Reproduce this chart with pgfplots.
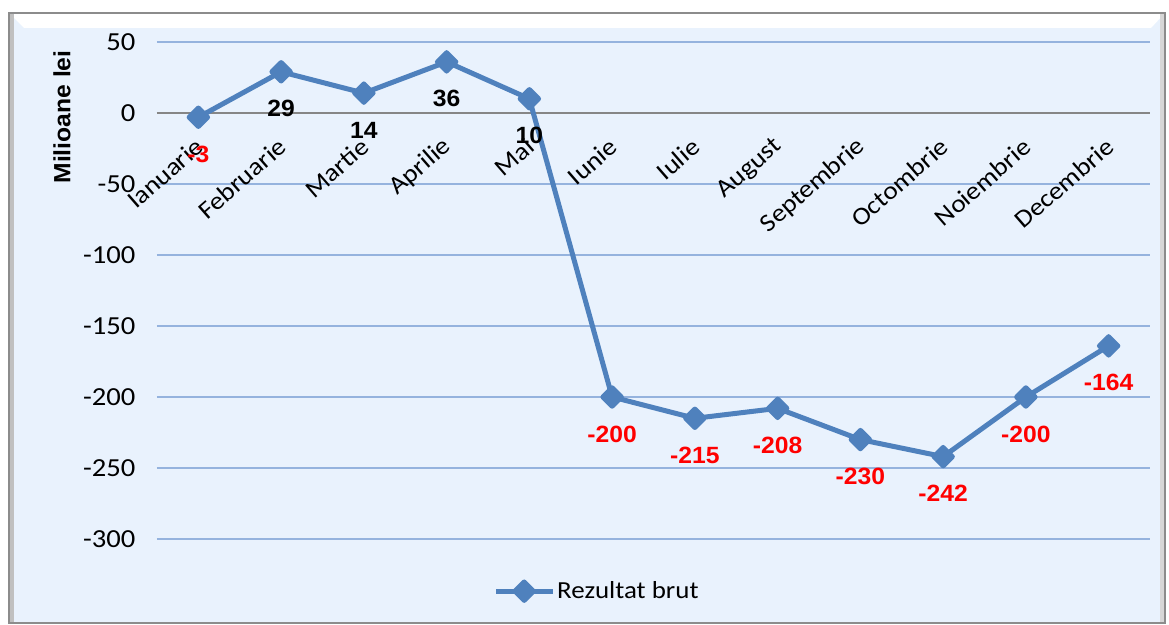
\documentclass[border=0pt]{standalone}
\usepackage{fontspec}
\setmainfont{Carlito}[FakeStretch=1.1]
\newfontfamily\arialf{Liberation Sans}[FakeStretch=1.05]
\usepackage{pgfplots}
\pgfplotsset{compat=1.18}
\definecolor{bgblue}{HTML}{E9F2FD}
\definecolor{gridblue}{HTML}{95B3DE}
\definecolor{serblue}{HTML}{4F81BD}
\definecolor{zerogray}{HTML}{868686}
\definecolor{framegray}{HTML}{8C8C8C}
\newcommand{\lblfont}{\fontsize{26bp}{30bp}\selectfont}
\newcommand{\catfont}{\fontsize{25bp}{29bp}\selectfont}
\newcommand{\legfont}{\fontsize{24.5bp}{28bp}\selectfont}
\newcommand{\valfont}{\arialf\bfseries\fontsize{23.5bp}{27bp}\selectfont}

\begin{document}
\begin{tikzpicture}
\useasboundingbox (-157bp,-86bp) rectangle (1012bp,539bp);
\fill[white] (-157bp,-86bp) rectangle (1012bp,539bp);
% chart area with bevel
\fill[bgblue] (-148bp,-84bp) rectangle (1008bp,526bp);
\fill[white] (-147bp,525bp) -- (1007bp,525bp) -- (994bp,511bp) -- (-133bp,511bp) -- cycle;
\fill[framegray!55] (-148bp,-84bp) rectangle (-143bp,526bp);
\fill[framegray!35] (1003bp,-84bp) rectangle (1008bp,526bp);
\draw[framegray, line width=1.5bp] (-148bp,-84bp) rectangle (1008bp,526bp);
\begin{axis}[
  scale only axis, width=993bp, height=497bp,
  xmin=-0.5, xmax=11.5, ymin=-300, ymax=50,
  axis x line=middle, axis y line=left,
  x axis line style={draw=zerogray, line width=1.3bp, -},
  y axis line style={draw=none},
  major tick length=0pt,
  xtick={0,...,11},
  xticklabels={Ianuarie,Februarie,Martie,Aprilie,Mai,Iunie,Iulie,August,Septembrie,Octombrie,Noiembrie,Decembrie},
  xticklabel style={xshift=4bp, yshift=-28bp, rotate=41, anchor=east, font=\catfont},
  ytick={-300,-250,...,50},
  ymajorgrids, grid style={gridblue, line width=1.3bp},
  yticklabel style={font=\lblfont, xshift=-18bp},
  /pgf/number format/assume math mode=true,
  ylabel={Milioane lei},
  every axis y label/.style={at={(axis description cs:-0.0957,0.849)}, rotate=90, anchor=center, font=\valfont},
  legend style={at={(0.443,-0.105)}, anchor=center, draw=none, fill=none, font=\legfont, nodes={inner xsep=1.5bp}},
  legend image code/.code={\draw[#1, mark repeat=2, mark phase=2] plot coordinates {(0bp,0bp) (28bp,0bp) (57bp,0bp)};},
]
\addplot[serblue, line width=5bp, line join=round, mark=square*, mark size=6.5bp, mark options={rotate=45, solid}]
  coordinates {(0,-3) (1,29) (2,14) (3,36) (4,10) (5,-200) (6,-215) (7,-208) (8,-230) (9,-242) (10,-200) (11,-164)};
\addlegendentry{Rezultat brut}
% data labels
\addplot[draw=none, forget plot, point meta=explicit symbolic, nodes near coords,
  nodes near coords style={font=\valfont, text=black, anchor=center, yshift=-37bp}]
  coordinates {(1,29) [29] (2,14) [14] (3,36) [36] (4,10) [10]};
\addplot[draw=none, forget plot, point meta=explicit symbolic, nodes near coords,
  nodes near coords style={font=\valfont, text=red, anchor=center, yshift=-37bp}]
  coordinates {(0,-3) [-3] (5,-200) [-200] (6,-215) [-215] (7,-208) [-208] (8,-230) [-230] (9,-242) [-242] (10,-200) [-200] (11,-164) [-164]};
\end{axis}
\end{tikzpicture}
\end{document}
